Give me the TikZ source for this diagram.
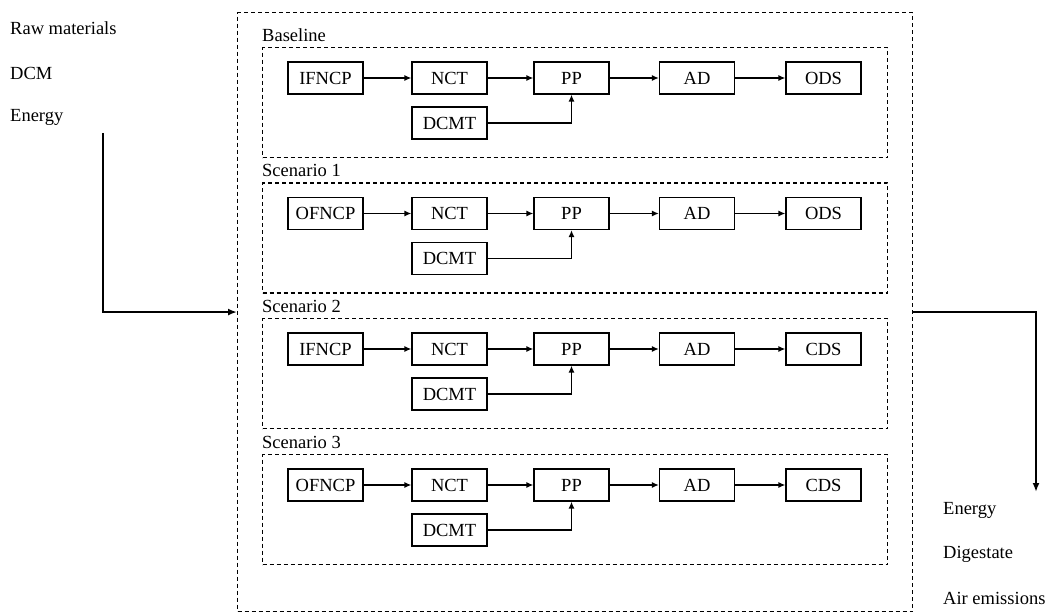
\documentclass[tikz,border=0pt]{standalone}
\usepackage{fontspec}
\setmainfont{Liberation Serif}
\usetikzlibrary{arrows.meta}
\begin{document}
\begin{tikzpicture}[x=1pt,y=-1pt,
  procbox/.style={draw, line width=1.2pt, minimum width=75pt, minimum height=32pt, inner sep=0pt, font=\fontsize{18.5}{21}\selectfont},
  dashbox/.style={draw, line width=1.1pt, dash pattern=on 4pt off 3pt, inner sep=0pt},
  flow/.style={line width=1.8pt, -{Latex[length=7pt,width=6pt]}},
  bigflow/.style={line width=2.6pt, -{Latex[length=9pt,width=7pt]}},
  lbl/.style={anchor=west, inner sep=0pt, font=\fontsize{18.5}{21}\selectfont}]
\useasboundingbox (0,0) rectangle (1047,612);

\node[dashbox, anchor=north west, minimum width=675pt, minimum height=599pt] (outer) at (237,12) {};

\foreach \i/\T/\first/\last/\name in {0/47/IFNCP/ODS/Baseline, 1/182.5/OFNCP/ODS/Scenario 1, 2/318/IFNCP/CDS/Scenario 2, 3/454/OFNCP/CDS/Scenario 3}{
  \node[dashbox, anchor=north west, minimum width=625pt, minimum height=110pt] (sc\i) at (262,\T) {};
  \node[lbl] (lab\i) at (262,{\T-12}) {\name};
  \node[procbox] (a\i) at (325.5,{\T+31}) {\first};
  \node[procbox] (b\i) at (449.5,{\T+31}) {NCT};
  \node[procbox] (c\i) at (571.5,{\T+31}) {PP};
  \node[procbox] (d\i) at (697,{\T+31}) {AD};
  \node[procbox] (e\i) at (823.5,{\T+31}) {\last};
  \node[procbox] (m\i) at (449.5,{\T+76}) {DCMT};
  \draw[flow] (a\i) -- (b\i);
  \draw[flow] (b\i) -- (c\i);
  \draw[flow] (c\i) -- (d\i);
  \draw[flow] (d\i) -- (e\i);
  \draw[flow] (m\i.east) -| (c\i.south);
}

\node[lbl] (rm) at (10,28) {Raw materials};
\node[lbl] (dcm) at (10,73) {DCM};
\node[lbl] (enin) at (10,117) {Energy};

\node[lbl] (enout) at (943,510) {Energy};
\node[lbl] (dig) at (943,554) {Digestate};
\node[lbl] (air) at (943,598) {Air emissions};

\coordinate (inS) at (103,133);
\coordinate (outE) at (1036,492);
\draw[bigflow] (inS) |- (outer.west);
\draw[bigflow] (outer.east) -| (outE);
\end{tikzpicture}
\end{document}
